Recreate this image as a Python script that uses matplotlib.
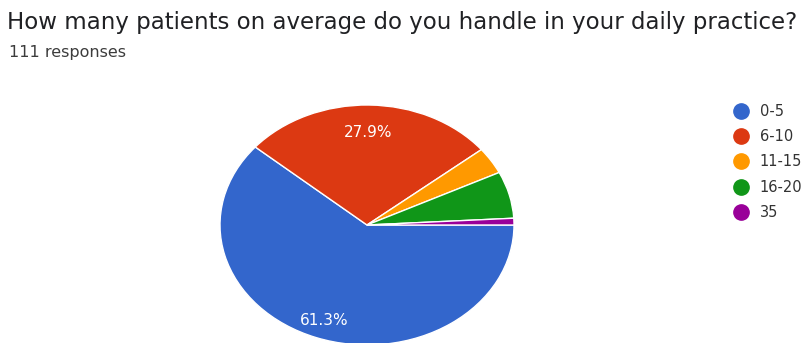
import matplotlib
matplotlib.use("Agg")
import matplotlib.pyplot as plt
from matplotlib.lines import Line2D

plt.rcParams['font.family'] = ['DejaVu Sans']

title = "How many patients on average do you handle in your daily practice?"
subtitle = "111 responses"
labels = ['0-5', '6-10', '11-15', '16-20', '35']
counts = [68, 31, 4, 7, 1]
colors = ['#3366cc', '#dc3912', '#ff9900', '#109618', '#990099']
# how far out each percentage label sits (fraction of radius)
label_dist = [0.85, 0.77, 0.8, 0.8, 0.8]

W, H = 809, 343
fig = plt.figure(figsize=(W / 100, H / 100), dpi=100)
fig.patch.set_facecolor('white')

# pie axes stretched horizontally so the pie comes out as an ellipse
ax = fig.add_axes([220 / W, (H - 345) / H, 294 / W, 240 / H])


def pct_label(p):
    return f'{p:.1f}%' if p > 10 else ''


wedges, texts, autotexts = ax.pie(
    counts, colors=colors, startangle=0, counterclock=False,
    autopct=pct_label, pctdistance=1.0,
    wedgeprops=dict(edgecolor='white', linewidth=1.0),
    textprops=dict(color='white', fontsize=11))
for t, d in zip(autotexts, label_dist):
    x, y = t.get_position()
    t.set_position((x * d, y * d))
ax.set_aspect('auto')
ax.set_xlim(-1, 1)
ax.set_ylim(-1, 1)
ax.axis('off')

fig.text(7 / W, 1 - 22 / H, title, fontsize=16.5, color='#202124',
         ha='left', va='center')
fig.text(9 / W, 1 - 52 / H, subtitle, fontsize=11.5, color='#3c3c3c',
         ha='left', va='center')

handles = [Line2D([], [], linestyle='none', marker='o', markersize=11,
                  markerfacecolor=c, markeredgecolor=c) for c in colors]
leg = fig.legend(handles, labels, loc='upper left',
                 bbox_to_anchor=(734 / W, 1 - 104 / H), frameon=False,
                 fontsize=10.5, handlelength=1.0, handletextpad=0.75,
                 labelspacing=0.7, borderpad=0, borderaxespad=0)
for t in leg.get_texts():
    t.set_color('#333333')

fig.savefig('out.png', dpi=100, facecolor='white')
